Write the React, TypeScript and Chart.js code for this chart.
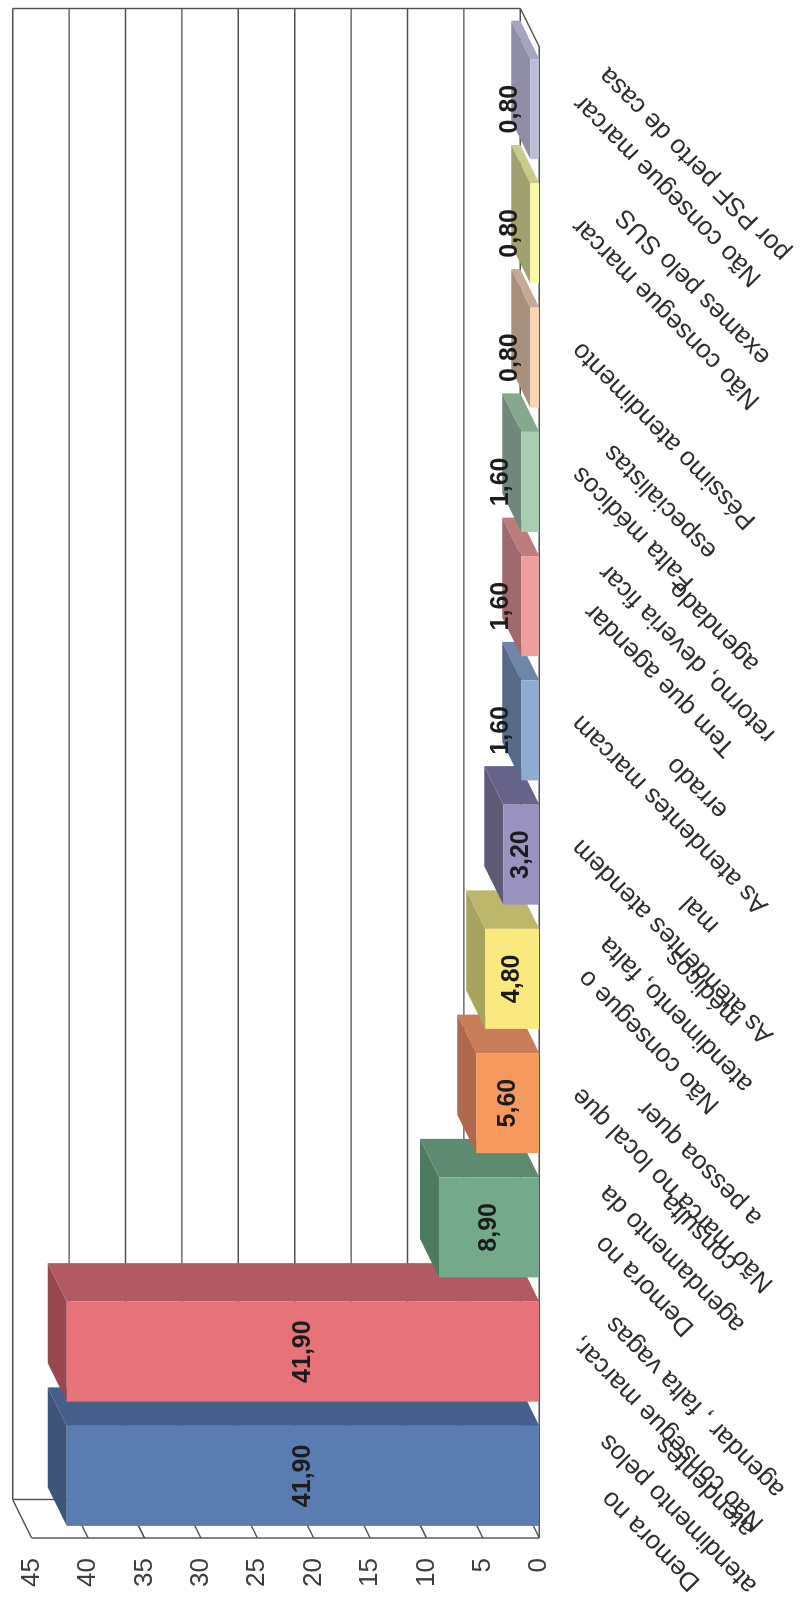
import React, { useEffect, useRef } from "react";
import { Chart, registerables } from "chart.js";

Chart.register(...registerables);

const categoryLines: string[][] = [
  ["Demora no", "atendimento pelos", "atendentes"],
  ["Não consegue marcar,", "agendar , falta vagas"],
  ["Demora no", "agendamento da", "consulta"],
  ["Não marca no local que", "a pessoa quer"],
  ["Não consegue o", "atendimento, falta", "médicos"],
  ["As atendentes atendem", "mal"],
  ["As atendentes marcam", "errado"],
  ["Tem que agendar", "retorno, deveria ficar", "agendado"],
  ["Falta médicos", "especialistas"],
  ["Péssimo atendimento"],
  ["Não consegue marcar", "exames pelo SUS"],
  ["Não consegue marcar", "por PSF perto de casa"],
];
const values: number[] = [41.9, 41.9, 8.9, 5.6, 4.8, 3.2, 1.6, 1.6, 1.6, 0.8, 0.8, 0.8];
const valueLabels: string[] = ["41,90", "41,90", "8,90", "5,60", "4,80", "3,20", "1,60", "1,60", "1,60", "0,80", "0,80", "0,80"];
const frontColors: string[] = ["#5b7cb1", "#e8727a", "#74aa8b", "#f59a5c", "#f9e97e", "#9a92c0", "#8fabd2", "#ee9f9d", "#a9cdb0", "#f9d5b0", "#f8f9a6", "#bdbdd9"];
const sideColors: string[] = ["#465f8c", "#b25a63", "#5d8a70", "#c97c58", "#bdb76c", "#67628a", "#6f86a8", "#be7b7e", "#86a88f", "#c4aa96", "#c8cb8a", "#a5a4bd"];
const topColors: string[] = ["#3f5478", "#97474f", "#4f7a62", "#b0684a", "#a8a35f", "#5f5a76", "#586a8a", "#a0696d", "#71877b", "#a8907f", "#a0a070", "#8f8ea6"];

const DEPTH_X = 38.5;
const DEPTH_Y = -19;
const AREA_LEFT = 64;
const AREA_TOP = 31.7;
const AREA_BOTTOM = 539.3;
const AREA_RIGHT = 1555;
const W = 1602;
const H = 800;
const LABEL_ANCHOR_Y = 563;
const LABEL_ANCHOR_SHIFT = -2;
const LABEL_ANGLE = (44.5 * Math.PI) / 180;
const LABEL_LINE_H = 38;

function poly(ctx: CanvasRenderingContext2D, pts: number[][], fill: string) {
  ctx.beginPath();
  pts.forEach((p, i) => (i ? ctx.lineTo(p[0], p[1]) : ctx.moveTo(p[0], p[1])));
  ctx.closePath();
  ctx.fillStyle = fill;
  ctx.fill();
}

const box3d = {
  id: "box3d",
  beforeDatasetsDraw(chart: any) {
    const { ctx, chartArea: a, scales } = chart;
    const yS = scales.y;
    ctx.save();
    ctx.strokeStyle = "#505050";
    ctx.lineWidth = 1.4;
    const line = (x1: number, y1: number, x2: number, y2: number) => {
      ctx.beginPath();
      ctx.moveTo(x1, y1);
      ctx.lineTo(x2, y2);
      ctx.stroke();
    };
    yS.ticks.forEach((t: any) => {
      const py = yS.getPixelForValue(t.value);
      line(a.left + DEPTH_X, py + DEPTH_Y, a.right + DEPTH_X, py + DEPTH_Y);
      line(a.left, py, a.left + DEPTH_X, py + DEPTH_Y);
    });
    line(a.left + DEPTH_X, a.top + DEPTH_Y, a.left + DEPTH_X, a.bottom + DEPTH_Y);
    line(a.right + DEPTH_X, a.top + DEPTH_Y, a.right + DEPTH_X, a.bottom + DEPTH_Y);
    line(a.left, a.top, a.left, a.bottom);
    line(a.left, a.bottom, a.right, a.bottom);
    line(a.right, a.bottom, a.right + DEPTH_X, a.bottom + DEPTH_Y);
    const meta = chart.getDatasetMeta(0);
    meta.data.forEach((bar: any, i: number) => {
      const l = bar.x - bar.width / 2;
      const r = bar.x + bar.width / 2;
      const t = bar.y;
      const b = bar.base;
      poly(ctx, [[r, t], [r, b], [r + DEPTH_X, b + DEPTH_Y], [r + DEPTH_X, t + DEPTH_Y]], sideColors[i]);
      poly(ctx, [[l, t], [r, t], [r + DEPTH_X, t + DEPTH_Y], [l + DEPTH_X, t + DEPTH_Y]], topColors[i]);
    });
    ctx.restore();
  },
  afterDatasetsDraw(chart: any) {
    const { ctx, scales } = chart;
    const xS = scales.x;
    const meta = chart.getDatasetMeta(0);
    ctx.save();
    ctx.textBaseline = "middle";
    ctx.textAlign = "center";
    ctx.fillStyle = "#1c1c1c";
    ctx.font = "bold 25px 'Liberation Sans'";
    meta.data.forEach((bar: any, i: number) => {
      const h = bar.base - bar.y;
      const y = h < 25 ? bar.y - 20 : bar.y + h / 2;
      ctx.fillText(valueLabels[i], bar.x, y);
    });
    ctx.fillStyle = "#2e2e2e";
    ctx.font = "26px 'Liberation Sans'";
    categoryLines.forEach((lines, i) => {
      const c = xS.getPixelForValue(i) + LABEL_ANCHOR_SHIFT;
      const w = Math.max(...lines.map((s) => ctx.measureText(s).width));
      ctx.save();
      ctx.translate(c, LABEL_ANCHOR_Y);
      ctx.rotate(-LABEL_ANGLE);
      lines.forEach((s, k) => ctx.fillText(s, -w / 2, LABEL_LINE_H * (k + 0.5)));
      ctx.restore();
    });
    ctx.restore();
  },
};

export default function App() {
  const ref = useRef<HTMLCanvasElement>(null);
  useEffect(() => {
    document.body.style.margin = "0";
    const chart = new Chart(ref.current as HTMLCanvasElement, {
      type: "bar",
      data: {
        labels: categoryLines.map((l) => l.join(" ")),
        datasets: [
          {
            data: values,
            backgroundColor: frontColors,
            borderWidth: 0,
            barPercentage: 0.805,
            categoryPercentage: 1,
          },
        ],
      },
      options: {
        responsive: false,
        animation: false,
        devicePixelRatio: 1,
        layout: { autoPadding: false, padding: { top: AREA_TOP, right: W - AREA_RIGHT, left: 0, bottom: 0 } },
        plugins: { legend: { display: false }, tooltip: { enabled: false } },
        scales: {
          x: {
            grid: { display: false },
            border: { display: false },
            ticks: { display: false },
            afterFit: (s: any) => {
              s.height = H - AREA_BOTTOM;
              s.paddingLeft = 0;
              s.paddingRight = 0;
            },
          },
          y: {
            min: 0,
            max: 45,
            grid: { display: false, drawTicks: false },
            border: { display: false },
            ticks: {
              stepSize: 5,
              padding: 20,
              color: "#3c3c3c",
              font: { family: "'Liberation Sans'", size: 26 },
            },
            afterFit: (s: any) => {
              s.width = AREA_LEFT;
              s.paddingTop = 0;
              s.paddingBottom = 0;
            },
          },
        },
      },
      plugins: [box3d],
    } as any);
    return () => chart.destroy();
  }, []);
  return (
    <div style={{ position: "absolute", left: 0, top: 0, width: 800, height: 1602, overflow: "hidden", background: "#ffffff" }}>
      <canvas
        ref={ref}
        width={W}
        height={H}
        style={{
          position: "absolute",
          left: 0,
          top: 0,
          width: W,
          height: H,
          transformOrigin: "0 0",
          transform: `translateY(${W}px) rotate(-90deg)`,
          filter: "blur(0.5px)",
        }}
      />
    </div>
  );
}
